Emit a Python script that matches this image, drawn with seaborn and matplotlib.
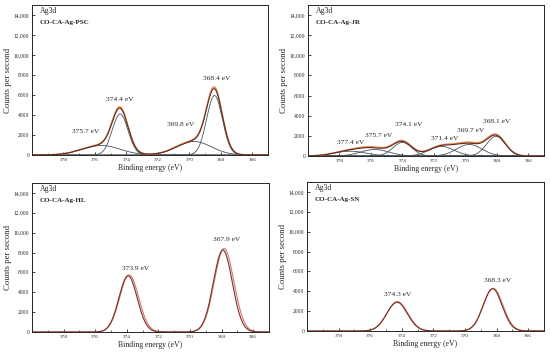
import numpy as np
import pandas as pd
import matplotlib
matplotlib.use("Agg")
import matplotlib.pyplot as plt
import matplotlib.ticker as mticker
import seaborn as sns

# Peak tables (centre eV, height cps, sigma eV)
PSC_CENTERS = [368.4, 369.7, 374.4, 375.6]
PSC_HEIGHTS = [5950, 1350, 4100, 950]
PSC_SIGMAS = [0.5, 1.1, 0.5, 1.2]
PSC_MEAS_HEIGHTS = [6100, 1420, 4220, 1000]
PSC_LABELS = ["368.4 eV", "374.4 eV", "375.7 eV", "369.8 eV"]
PSC_LABEL_X = [368.27, 374.4, 376.6, 370.56]
PSC_LABEL_Y = [7600, 5570, 2360, 3040]

JR_CENTERS = [368.05, 369.75, 371.5, 374.0, 375.75, 377.3]
JR_HEIGHTS = [1950, 1150, 950, 1350, 650, 480]
JR_SIGMAS = [0.6, 0.8, 0.8, 0.6, 0.9, 1.0]
JR_MEAS_HEIGHTS = [2050, 1250, 1000, 1420, 720, 520]
JR_LABELS = ["368.1 eV", "369.7 eV", "371.4 eV", "374.1 eV", "375.7 eV", "377.4 eV"]
JR_LABEL_X = [368.0, 369.67, 371.3, 373.6, 375.5, 377.3]
JR_LABEL_Y = [3420, 2580, 1745, 3090, 2080, 1310]

HL_CENTERS = [367.92, 373.92]
HL_HEIGHTS = [8250, 5650]
HL_SIGMAS = [0.6, 0.58]
HL_MEAS_CENTERS = [367.84, 373.85]
HL_MEAS_HEIGHTS = [8400, 5750]
HL_MEAS_SIGMAS = [0.62, 0.6]
HL_LABELS = ["367.9 eV", "373.9 eV"]
HL_LABEL_X = [367.67, 373.45]
HL_LABEL_Y = [9265, 6410]

SN_CENTERS = [368.25, 374.3]
SN_HEIGHTS = [4250, 2900]
SN_SIGMAS = [0.6, 0.65]
SN_MEAS_CENTERS = [368.22, 374.28]
SN_MEAS_HEIGHTS = [4300, 2950]
SN_MEAS_SIGMAS = [0.62, 0.66]
SN_LABELS = ["368.3 eV", "374.3 eV"]
SN_LABEL_X = [367.93, 374.27]
SN_LABEL_Y = [5050, 3700]

Y_TICKS = [0, 2000, 4000, 6000, 8000, 10000, 12000, 14000]
Y_TICK_LABELS = ["0", "2000", "4000", "6000", "8000", "10,000", "12,000", "14,000"]
X_TICKS = [366, 368, 370, 372, 374, 376, 378]

ORANGE = "#e8894a"
ENVELOPE = "#5b2c22"
COMPONENT = "#46525c"
FIT_RED = "#7b2f26"
MEAS_RED = "#d07a6a"

sns.set_style("ticks")
plt.rcParams["font.family"] = ["Liberation Serif", "DejaVu Serif"]

energy = np.linspace(365, 380, 700)


def gauss(center, height, sigma):
    return height * np.exp(-((energy - center) ** 2) / (2 * sigma ** 2))


def style_axes(ax, sample):
    ax.set_xlim(380, 365)
    ax.set_ylim(0, 15000)
    ax.set_xticks(X_TICKS)
    ax.xaxis.set_minor_locator(mticker.MultipleLocator(1))
    ax.set_yticks(Y_TICKS)
    ax.set_yticklabels(Y_TICK_LABELS)
    ax.tick_params(axis="both", direction="in", length=2.5, width=0.6, pad=2)
    ax.tick_params(axis="x", labelsize=3.8)
    ax.tick_params(axis="y", labelsize=4.0)
    ax.tick_params(which="minor", direction="in", length=1.5, width=0.5)
    for sp in ax.spines.values():
        sp.set_visible(True)
        sp.set_linewidth(0.7)
    ax.set_xlabel("Binding energy (eV)", fontsize=5.6, labelpad=1.5)
    ax.set_ylabel("Counts per second", fontsize=6.3, labelpad=1.5)
    ax.annotate("Ag3d", xy=(0.034, 1), xycoords="axes fraction",
                xytext=(0, -4.5), textcoords="offset points",
                fontsize=5.6, va="center")
    ax.annotate(sample, xy=(0.034, 1), xycoords="axes fraction",
                xytext=(0, -12.5), textcoords="offset points",
                fontsize=5.0, fontweight="bold", va="center")


def add_labels(ax, labels, xs, ys):
    for lab, x, y in zip(labels, xs, ys):
        ax.text(x, y, lab, fontsize=5.4, ha="center", va="center")


fig = plt.figure(figsize=(5.5, 3.55), dpi=100)
W, H = 550, 355


def make_ax(l, t, r, b):
    return fig.add_axes([l / W, 1 - b / H, (r - l) / W, (b - t) / H])


ax_psc = make_ax(32, 5, 268, 155)
ax_jr = make_ax(308, 5, 544, 156)
ax_hl = make_ax(32, 183, 269, 332)
ax_sn = make_ax(307, 182, 544, 331)

# fitted panels with components
for ax, centers, heights, sigmas, meas, sample in [
    (ax_psc, PSC_CENTERS, PSC_HEIGHTS, PSC_SIGMAS, PSC_MEAS_HEIGHTS, "CO-CA-Ag-PSC"),
    (ax_jr, JR_CENTERS, JR_HEIGHTS, JR_SIGMAS, JR_MEAS_HEIGHTS, "CO-CA-Ag-JR"),
]:
    comps = [gauss(c, h, s) for c, h, s in zip(centers, heights, sigmas)]
    measured = sum(gauss(c, h, s) for c, h, s in zip(centers, meas, sigmas))
    for comp in comps:
        sns.lineplot(x=energy, y=comp, ax=ax, color=COMPONENT, linewidth=0.6)
    sns.lineplot(x=energy, y=measured, ax=ax, color=ORANGE, linewidth=1.0)
    sns.lineplot(x=energy, y=sum(comps), ax=ax, color=ENVELOPE, linewidth=0.8)
    style_axes(ax, sample)

add_labels(ax_psc, PSC_LABELS, PSC_LABEL_X, PSC_LABEL_Y)
add_labels(ax_jr, JR_LABELS, JR_LABEL_X, JR_LABEL_Y)

# two-curve panels
for ax, fc, fh, fs, mc, mh, ms, sample in [
    (ax_hl, HL_CENTERS, HL_HEIGHTS, HL_SIGMAS, HL_MEAS_CENTERS, HL_MEAS_HEIGHTS,
     HL_MEAS_SIGMAS, "CO-CA-Ag-HL"),
    (ax_sn, SN_CENTERS, SN_HEIGHTS, SN_SIGMAS, SN_MEAS_CENTERS, SN_MEAS_HEIGHTS,
     SN_MEAS_SIGMAS, "CO-CA-Ag-SN"),
]:
    meas_curve = sum(gauss(c, h, s) for c, h, s in zip(mc, mh, ms))
    fit_curve = sum(gauss(c, h, s) for c, h, s in zip(fc, fh, fs))
    sns.lineplot(x=energy, y=meas_curve, ax=ax, color=MEAS_RED, linewidth=0.8)
    sns.lineplot(x=energy, y=fit_curve, ax=ax, color=FIT_RED, linewidth=0.8)
    style_axes(ax, sample)

add_labels(ax_hl, HL_LABELS, HL_LABEL_X, HL_LABEL_Y)
add_labels(ax_sn, SN_LABELS, SN_LABEL_X, SN_LABEL_Y)

fig.savefig("out.png", dpi=100)
